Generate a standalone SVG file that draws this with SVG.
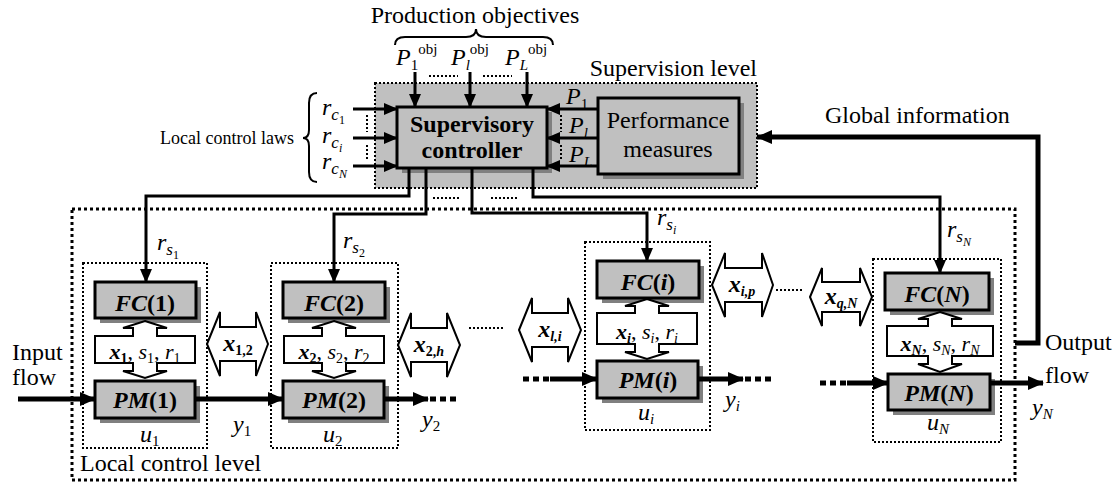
<svg xmlns="http://www.w3.org/2000/svg" width="1116" height="484" viewBox="0 0 1116 484" font-family="'Liberation Serif', Tinos, 'Times New Roman', 'DejaVu Serif', serif">
<style>
text{font-family:'Liberation Serif', Tinos, 'Times New Roman', 'DejaVu Serif', serif;font-size:24px;fill:#000}
text.s22{font-size:22px}
text.s18{font-size:18px}
.c{text-anchor:middle}
.e{text-anchor:end}
.i{font-style:italic}
.b{font-weight:bold}
.bi{font-weight:bold;font-style:italic}
.box{fill:#c0c0c0;stroke:#000;stroke-width:3}
.sh{fill:#808080}
.dot{fill:none;stroke:#000;stroke-width:2;stroke-dasharray:2 2}
.dotH{fill:none;stroke:#000;stroke-width:3;stroke-dasharray:3 3}
.w{fill:none;stroke:#000;stroke-width:3}
.tk{fill:none;stroke:#000;stroke-width:5}
.dd{fill:none;stroke:#000;stroke-width:5;stroke-dasharray:6 4}
.xch{fill:#fff;stroke:#000;stroke-width:2}
.br{fill:none;stroke:#000;stroke-width:2}
</style>
<defs>
<marker id="a" markerUnits="userSpaceOnUse" markerWidth="14" markerHeight="12" refX="13" refY="6" orient="auto"><path d="M0,0 L14,6 L0,12 Z" fill="#000"/></marker>
<marker id="ak" markerUnits="userSpaceOnUse" markerWidth="16" markerHeight="14" refX="15" refY="7" orient="auto"><path d="M0,0 L16,7 L0,14 Z" fill="#000"/></marker>
</defs>

<!-- Supervision level -->
<g id="supervision-level">
<rect x="375" y="83" width="382" height="105" fill="#c0c0c0"/>
<rect x="375" y="83" width="382" height="105" class="dot"/>
<text x="757" y="76" class="e">Supervision level</text>
</g>

<g id="supervisory-controller">
<rect x="402" y="112" width="150" height="61" class="sh"/>
<rect x="397" y="107" width="150" height="61" class="box"/>
<text x="472" y="132" class="c b">Supervisory</text>
<text x="472" y="158" class="c b">controller</text>
</g>

<g id="performance-measures">
<rect x="603" y="103" width="141" height="76" class="sh"/>
<rect x="598" y="98" width="141" height="76" class="box"/>
<text x="668" y="128" class="c">Performance</text>
<text x="668" y="157" class="c">measures</text>
</g>

<!-- Production objectives -->
<g id="production-objectives">
<text x="475" y="23" class="c">Production objectives</text>
<path class="br" d="M395,45 Q395,37 405,37 L466,37 Q476,37 476,29 Q476,37 486,37 L543,37 Q553,37 553,45"/>
<text x="396" y="65"><tspan class="i">P</tspan><tspan font-size="15" dy="5">1</tspan><tspan font-size="15" dy="-16">obj</tspan></text>
<text x="451" y="65"><tspan class="i">P</tspan><tspan font-size="15" class="i" dy="5">l</tspan><tspan font-size="15" dy="-16">obj</tspan></text>
<text x="505" y="65"><tspan class="i">P</tspan><tspan font-size="15" class="i" dy="5">L</tspan><tspan font-size="15" dy="-16">obj</tspan></text>
</g>

<!-- Local control laws -->
<g id="local-control-laws">
<text x="294" y="144" class="e s18">Local control laws</text>
<path class="br" d="M317,93 Q309,93 309,103 L309,130 Q309,138 303,138 Q309,138 309,146 L309,172 Q309,182 317,182"/>
<text x="322" y="115"><tspan class="i">r</tspan><tspan class="i" font-size="17" dy="5">c</tspan><tspan font-size="12" dy="4">1</tspan></text>
<text x="322" y="143"><tspan class="i">r</tspan><tspan class="i" font-size="17" dy="5">c</tspan><tspan class="i" font-size="12" dy="4">i</tspan></text>
<text x="322" y="169"><tspan class="i">r</tspan><tspan class="i" font-size="17" dy="5">c</tspan><tspan class="i" font-size="12" dy="4">N</tspan></text>
</g>

<g id="perf-labels">
<text x="566" y="104"><tspan class="i">P</tspan><tspan font-size="15" dy="5">1</tspan></text>
<text x="569" y="133"><tspan class="i">P</tspan><tspan class="i" font-size="15" dy="5">l</tspan></text>
<text x="569" y="162"><tspan class="i">P</tspan><tspan class="i" font-size="15" dy="5">L</tspan></text>
</g>

<!-- Local control level -->
<g id="local-control-level">
<rect x="72" y="209" width="943" height="271" class="dotH"/>
<text x="80" y="471">Local control level</text>
</g>

<!-- Unit 1 -->
<g id="unit-1">
<rect x="83" y="263" width="124" height="185" class="dot"/>
<rect x="100" y="287" width="101" height="36" class="sh"/>
<rect x="95" y="282" width="101" height="36" class="box"/>
<text x="145" y="311" class="c"><tspan class="bi">FC</tspan><tspan class="b">(1)</tspan></text>
<path class="xch" d="M145,321 L167,328 L157,328 L157,336 L195,336 L195,363 L157,363 L157,371 L167,371 L145,378 L123,371 L133,371 L133,363 L95,363 L95,336 L133,336 L133,328 L123,328 Z"/>
<text x="145" y="359" class="c s22"><tspan class="bi">x</tspan><tspan class="b" font-size="14" dy="4">1</tspan><tspan dy="-4">, </tspan><tspan class="i">s</tspan><tspan font-size="14" dy="4">1</tspan><tspan dy="-4">, </tspan><tspan class="i">r</tspan><tspan font-size="14" dy="4">1</tspan></text>
<rect x="100" y="386" width="100" height="37" class="sh"/>
<rect x="95" y="381" width="100" height="37" class="box"/>
<text x="145" y="408" class="c"><tspan class="bi">PM</tspan><tspan class="b">(1)</tspan></text>
<text x="140" y="442" class="i">u<tspan font-size="15" font-style="normal" dy="4">1</tspan></text>
<text x="157" y="250"><tspan class="i">r</tspan><tspan class="i" font-size="17" dy="5">s</tspan><tspan font-size="12" dy="4">1</tspan></text>
</g>

<!-- Unit 2 -->
<g id="unit-2">
<rect x="271" y="263" width="127" height="185" class="dot"/>
<rect x="288" y="287" width="102" height="36" class="sh"/>
<rect x="283" y="282" width="102" height="36" class="box"/>
<text x="334" y="311" class="c"><tspan class="bi">FC</tspan><tspan class="b">(2)</tspan></text>
<path class="xch" d="M334,321 L356,328 L346,328 L346,336 L384,336 L384,363 L346,363 L346,371 L356,371 L334,378 L312,371 L322,371 L322,363 L284,363 L284,336 L322,336 L322,328 L312,328 Z"/>
<text x="334" y="359" class="c s22"><tspan class="bi">x</tspan><tspan class="b" font-size="14" dy="4">2</tspan><tspan dy="-4">, </tspan><tspan class="i">s</tspan><tspan font-size="14" dy="4">2</tspan><tspan dy="-4">, </tspan><tspan class="i">r</tspan><tspan font-size="14" dy="4">2</tspan></text>
<rect x="288" y="386" width="101" height="37" class="sh"/>
<rect x="283" y="381" width="101" height="37" class="box"/>
<text x="334" y="408" class="c"><tspan class="bi">PM</tspan><tspan class="b">(2)</tspan></text>
<text x="323" y="442" class="i">u<tspan font-size="15" font-style="normal" dy="4">2</tspan></text>
<text x="343" y="248"><tspan class="i">r</tspan><tspan class="i" font-size="17" dy="5">s</tspan><tspan font-size="12" dy="4">2</tspan></text>
</g>

<!-- Unit i -->
<g id="unit-i">
<rect x="585" y="242" width="125" height="188" class="dot"/>
<rect x="602" y="266" width="102" height="37" class="sh"/>
<rect x="597" y="261" width="102" height="37" class="box"/>
<text x="648" y="290" class="c"><tspan class="bi">FC</tspan><tspan class="b">(</tspan><tspan class="bi">i</tspan><tspan class="b">)</tspan></text>
<path class="xch" d="M647,299 L669,306 L659,306 L659,313 L697,313 L697,344 L659,344 L659,352 L669,352 L647,359 L625,352 L635,352 L635,344 L597,344 L597,313 L635,313 L635,306 L625,306 Z"/>
<text x="647" y="339" class="c s22"><tspan class="bi">x</tspan><tspan class="b i" font-size="14" dy="4">i</tspan><tspan dy="-4">, </tspan><tspan class="i">s</tspan><tspan class="i" font-size="14" dy="4">i</tspan><tspan dy="-4">, </tspan><tspan class="i">r</tspan><tspan class="i" font-size="14" dy="4">i</tspan></text>
<rect x="602" y="366" width="101" height="37" class="sh"/>
<rect x="597" y="361" width="101" height="37" class="box"/>
<text x="648" y="388" class="c"><tspan class="bi">PM</tspan><tspan class="b">(</tspan><tspan class="bi">i</tspan><tspan class="b">)</tspan></text>
<text x="638" y="420" class="i">u<tspan font-size="15" dy="4">i</tspan></text>
<text x="657" y="225"><tspan class="i">r</tspan><tspan class="i" font-size="17" dy="5">s</tspan><tspan class="i" font-size="12" dy="4">i</tspan></text>
</g>

<!-- Unit N -->
<g id="unit-N">
<rect x="873" y="259" width="128" height="183" class="dot"/>
<rect x="890" y="278" width="104" height="37" class="sh"/>
<rect x="885" y="273" width="104" height="37" class="box"/>
<text x="937" y="302" class="c"><tspan class="bi">FC</tspan><tspan class="b">(</tspan><tspan class="bi">N</tspan><tspan class="b">)</tspan></text>
<path class="xch" d="M940,312 L962,319 L952,319 L952,326 L993,326 L993,356 L952,356 L952,364 L962,364 L940,372 L918,364 L928,364 L928,356 L887,356 L887,326 L928,326 L928,319 L918,319 Z"/>
<text x="940" y="351" class="c s22"><tspan class="bi">x</tspan><tspan class="b i" font-size="14" dy="4">N</tspan><tspan dy="-4">, </tspan><tspan class="i">s</tspan><tspan class="i" font-size="14" dy="4">N</tspan><tspan dy="-4">, </tspan><tspan class="i">r</tspan><tspan class="i" font-size="14" dy="4">N</tspan></text>
<rect x="893" y="379" width="102" height="36" class="sh"/>
<rect x="888" y="374" width="102" height="36" class="box"/>
<text x="939" y="401" class="c"><tspan class="bi">PM</tspan><tspan class="b">(</tspan><tspan class="bi">N</tspan><tspan class="b">)</tspan></text>
<text x="927" y="430" class="i">u<tspan font-size="15" dy="4">N</tspan></text>
<text x="947" y="237"><tspan class="i">r</tspan><tspan class="i" font-size="17" dy="5">s</tspan><tspan class="i" font-size="12" dy="4">N</tspan></text>
</g>

<!-- Exchanges between units -->
<g id="exchanges">
<path class="xch" d="M207,344 L220,312 L220,327 L256,327 L256,312 L268,344 L256,376 L256,361 L220,361 L220,376 Z"/>
<text x="238" y="351" class="c"><tspan class="bi">x</tspan><tspan class="b" font-size="14" dy="4">1,2</tspan></text>
<path class="xch" d="M398,345 L411,313 L411,328 L447,328 L447,313 L460,345 L447,377 L447,362 L411,362 L411,377 Z"/>
<text x="429" y="352" class="c"><tspan class="bi">x</tspan><tspan class="b" font-size="14" dy="4">2,<tspan font-style="italic">h</tspan></tspan></text>
<path class="xch" d="M519,330 L532,298 L532,313 L568,313 L568,298 L581,330 L568,362 L568,347 L532,347 L532,362 Z"/>
<text x="550" y="337" class="c"><tspan class="bi">x</tspan><tspan class="bi" font-size="14" dy="4">l,i</tspan></text>
<path class="xch" d="M712,285 L725,253 L725,268 L762,268 L762,253 L773,285 L762,317 L762,302 L725,302 L725,317 Z"/>
<text x="742" y="292" class="c"><tspan class="bi">x</tspan><tspan class="bi" font-size="14" dy="4">i,p</tspan></text>
<path class="xch" d="M810,297 L822,268 L822,282 L860,282 L860,268 L872,297 L860,326 L860,312 L822,312 L822,326 Z"/>
<text x="841" y="304" class="c"><tspan class="bi">x</tspan><tspan class="bi" font-size="14" dy="4">q,N</tspan></text>
<path class="dot" d="M469,328 H505 M776,290 H804"/>
</g>

<!-- Connectors -->
<g id="connectors">
<path class="w" d="M415,72 V107" marker-end="url(#a)"/>
<path class="w" d="M470,72 V107" marker-end="url(#a)"/>
<path class="w" d="M527,72 V107" marker-end="url(#a)"/>
<path class="dot" d="M429,76 H458 M483,76 H512"/>
<path class="w" d="M353,109 H397" marker-end="url(#a)"/>
<path class="w" d="M353,138 H397" marker-end="url(#a)"/>
<path class="w" d="M353,166 H397" marker-end="url(#a)"/>
<path class="dot" d="M367,115 V132 M367,145 V160"/>
<path class="w" d="M598,109 H547" marker-end="url(#a)"/>
<path class="w" d="M598,138 H547" marker-end="url(#a)"/>
<path class="w" d="M598,166 H547" marker-end="url(#a)"/>
<path class="dot" d="M561,115 V132 M561,145 V160"/>
<path class="w" d="M409,168 V196 H146 V282" marker-end="url(#a)"/>
<path class="w" d="M426,168 V214 H334 V282" marker-end="url(#a)"/>
<path class="w" d="M472,168 V213 H647 V261" marker-end="url(#a)"/>
<path class="w" d="M533,168 V197 H940 V273" marker-end="url(#a)"/>
<path class="dot" d="M433,198 H459 M491,198 H518"/>
<path class="tk" d="M1015,343 H1038 V137 H757" marker-end="url(#ak)"/>
<path class="tk" d="M18,399 H95" marker-end="url(#ak)"/>
<path class="tk" d="M195,399 H283" marker-end="url(#ak)"/>
<path class="tk" d="M384,399 H428" marker-end="url(#ak)"/>
<path class="dd" d="M430,399 H458"/>
<path class="dd" d="M523,379 H551"/>
<path class="tk" d="M550,379 H597" marker-end="url(#ak)"/>
<path class="tk" d="M698,379 H743" marker-end="url(#ak)"/>
<path class="dd" d="M745,379 H773"/>
<path class="dd" d="M820,383 H848"/>
<path class="tk" d="M847,383 H888" marker-end="url(#ak)"/>
<path class="tk" d="M990,383 H1043" marker-end="url(#ak)"/>
</g>

<g id="labels">
<text x="825" y="123">Global information</text>
<text x="12" y="360">Input</text>
<text x="12" y="385">flow</text>
<text x="1045" y="350">Output</text>
<text x="1045" y="383">flow</text>
<text x="233" y="432" class="i">y<tspan font-size="15" font-style="normal" dy="4">1</tspan></text>
<text x="422" y="427" class="i">y<tspan font-size="15" font-style="normal" dy="4">2</tspan></text>
<text x="725" y="407" class="i">y<tspan font-size="15" dy="4">i</tspan></text>
<text x="1032" y="415" class="i">y<tspan font-size="15" dy="4">N</tspan></text>
</g>
</svg>
